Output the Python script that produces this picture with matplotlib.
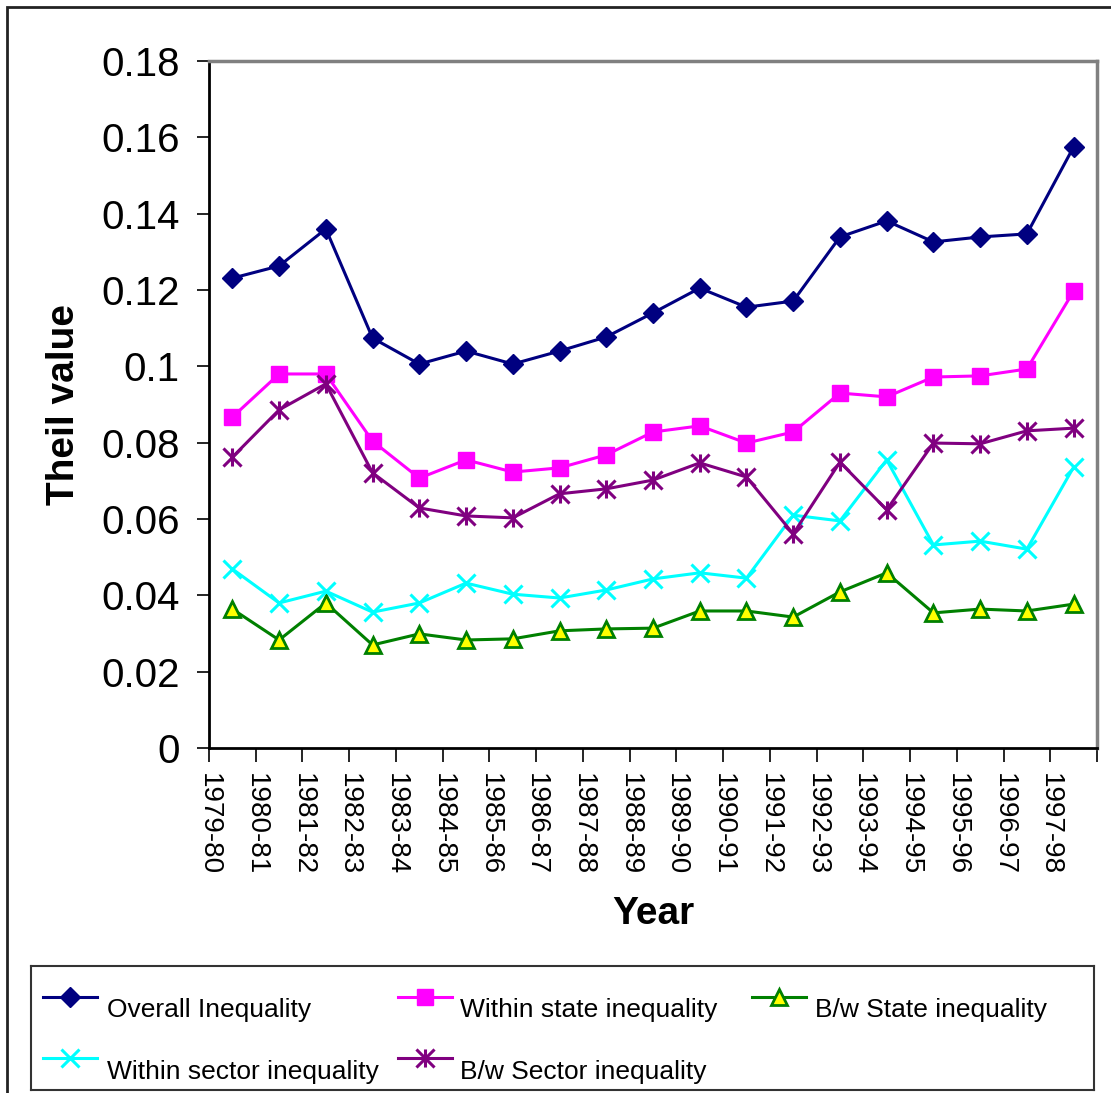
import matplotlib
matplotlib.use("Agg")
import matplotlib.pyplot as plt
from matplotlib.path import Path
from matplotlib.patches import Rectangle
import numpy as np

plt.rcParams["font.family"] = ["Liberation Sans", "DejaVu Sans"]

# Theil decomposition, 1979-80 to 1997-98
years = ["1979-80", "1980-81", "1981-82", "1982-83", "1983-84", "1984-85",
         "1985-86", "1986-87", "1987-88", "1988-89", "1989-90", "1990-91",
         "1991-92", "1992-93", "1993-94", "1994-95", "1995-96", "1996-97",
         "1997-98"]

overall = [0.1231, 0.1263, 0.1360, 0.1074, 0.1006, 0.1040, 0.1006, 0.1040,
           0.1077, 0.1140, 0.1205, 0.1155, 0.1171, 0.1339, 0.1381, 0.1326,
           0.1339, 0.1347, 0.1575]
within_state = [0.0867, 0.0980, 0.0980, 0.0804, 0.0707, 0.0755, 0.0723,
                0.0734, 0.0768, 0.0828, 0.0844, 0.0799, 0.0828, 0.0930,
                0.0920, 0.0972, 0.0975, 0.0993, 0.1197]
bw_state = [0.0364, 0.0283, 0.0380, 0.0270, 0.0299, 0.0283, 0.0286, 0.0307,
            0.0312, 0.0314, 0.0359, 0.0359, 0.0343, 0.0409, 0.0459, 0.0354,
            0.0364, 0.0359, 0.0377]
within_sector = [0.0469, 0.0380, 0.0411, 0.0356, 0.0380, 0.0432, 0.0403,
                 0.0393, 0.0414, 0.0443, 0.0459, 0.0445, 0.0610, 0.0595,
                 0.0755, 0.0532, 0.0542, 0.0521, 0.0736]
bw_sector = [0.0762, 0.0886, 0.0954, 0.0721, 0.0629, 0.0608, 0.0603, 0.0666,
             0.0679, 0.0702, 0.0747, 0.0710, 0.0561, 0.0749, 0.0624, 0.0799,
             0.0797, 0.0831, 0.0838]

# Excel-style star: an X with a vertical bar through it
star = Path(
    [(-0.5, -0.5), (0.5, 0.5), (-0.5, 0.5), (0.5, -0.5), (0, -0.5), (0, 0.5)],
    [Path.MOVETO, Path.LINETO, Path.MOVETO, Path.LINETO, Path.MOVETO, Path.LINETO],
)

series = [
    ("Overall Inequality", overall,
     dict(color="#000080", marker="D", markersize=10, markerfacecolor="#000080",
          markeredgecolor="#000080")),
    ("Within state inequality", within_state,
     dict(color="#FF00FF", marker="s", markersize=12, markerfacecolor="#FF00FF",
          markeredgecolor="#FF00FF")),
    ("B/w State inequality", bw_state,
     dict(color="#008000", marker="^", markersize=12, markerfacecolor="#FFFF00",
          markeredgecolor="#008000", markeredgewidth=2)),
    ("Within sector inequality", within_sector,
     dict(color="#00FFFF", marker="x", markersize=13, markeredgecolor="#00FFFF",
          markeredgewidth=2.2)),
    ("B/w Sector inequality", bw_sector,
     dict(color="#800080", marker=star, markersize=13, markeredgecolor="#800080",
          markeredgewidth=2.2)),
]

W, H = 1111, 1093
fig = plt.figure(figsize=(W / 100, H / 100), dpi=100)

ax = fig.add_axes([209 / W, 1 - 748 / H, (1097 - 209) / W, (748 - 61) / H])

x = np.arange(len(years))
for name, vals, style in series:
    ax.plot(x, vals, linewidth=2.2, **style)

ax.set_xlim(-0.5, len(years) - 0.5)
ax.set_ylim(0, 0.18)
ax.set_yticks(np.arange(0, 0.181, 0.02))
ax.set_yticklabels(["0", "0.02", "0.04", "0.06", "0.08", "0.1", "0.12",
                    "0.14", "0.16", "0.18"])
ax.set_xticks(np.arange(-0.5, len(years) + 0.5, 1))
ax.set_xticklabels(years + [""], rotation=-90, ha="center", va="top")

ax.tick_params(axis="y", direction="out", length=9, width=1.2, pad=12,
               labelsize=29)
ax.tick_params(axis="x", direction="out", length=10, width=1.2, pad=8,
               labelsize=20)

for side in ["left", "bottom"]:
    ax.spines[side].set_color("black")
    ax.spines[side].set_linewidth(2)
for side in ["top", "right"]:
    ax.spines[side].set_color("#808080")
    ax.spines[side].set_linewidth(2.5)

ax.set_ylabel("Theil value", fontsize=28, fontweight="bold", labelpad=14)
ax.set_xlabel("Year", fontsize=28, fontweight="bold", labelpad=15)

# Outer chart frame
fig.patches.append(Rectangle((7 / W, -0.1), 1.2, 1.1 - 7 / H,
                             transform=fig.transFigure, fill=False,
                             edgecolor="#222222", linewidth=2))

# Legend box, laid out in pixel units
lg = fig.add_axes([31 / W, 1 - 1090 / H, (1094 - 31) / W, (1090 - 966) / H])
lg.set_xlim(31, 1094)
lg.set_ylim(1090, 966)
lg.set_xticks([])
lg.set_yticks([])
for sp in lg.spines.values():
    sp.set_color("#333333")
    sp.set_linewidth(1.5)

slots = [(43, 997, 107, 1010), (398, 997, 460, 1010), (752, 997, 815, 1010),
         (43, 1058, 107, 1072), (398, 1058, 460, 1072)]
for (name, vals, style), (hx, hy, tx, ty) in zip(series, slots):
    lg.plot([hx, hx + 54], [hy, hy], linewidth=2.2,
            **{k: v for k, v in style.items() if k != "marker"})
    lg.plot([hx + 27], [hy], linestyle="none", **{k: v for k, v in style.items()
                                                  if k != "color"})
    lg.text(tx, ty, name, fontsize=19, va="center", ha="left")

fig.savefig("out.png", dpi=100)
